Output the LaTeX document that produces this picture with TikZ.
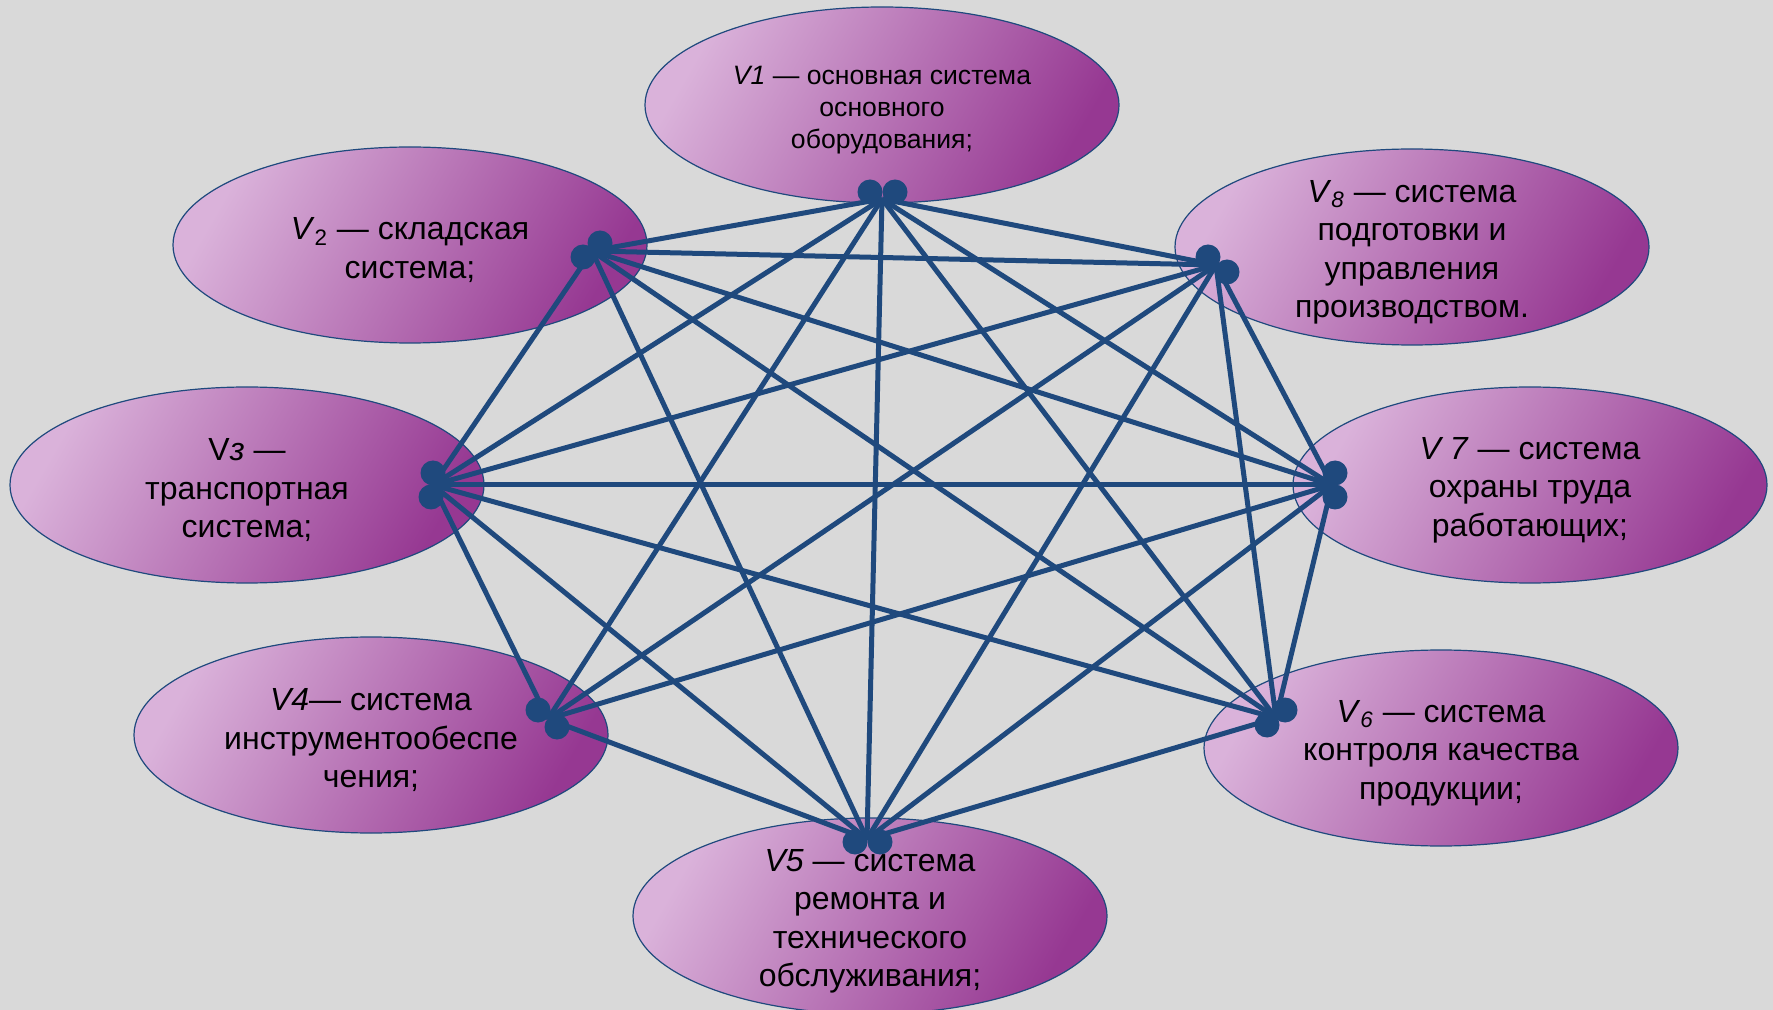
\documentclass[tikz,border=0pt]{standalone}
\usepackage{fontspec}
\setmainfont{Liberation Sans}
\usetikzlibrary{shapes.geometric}
\definecolor{edgeblue}{RGB}{31,73,125}
\definecolor{paleorchid}{RGB}{218,178,218}
\definecolor{deeporchid}{RGB}{150,56,146}
\definecolor{slidegray}{RGB}{217,217,217}

\begin{document}
\begin{tikzpicture}[
    x=0.5pt, y=-0.5pt,
    subsystem/.style={ellipse, draw=edgeblue, line width=0.6pt, top color=paleorchid, bottom color=deeporchid, shading angle=60, minimum width=237pt, minimum height=98pt, inner sep=0pt},
    caption/.style={inner sep=0pt, align=center, font=\fontsize{16}{19.2}\selectfont},
    link/.style={edgeblue, line width=2.5pt},
    joint/.style={circle, fill=edgeblue, inner sep=0pt, minimum size=12.5pt}
]

\useasboundingbox (0,0) rectangle (1773,1010);
\fill[slidegray] (0,0) rectangle (1773,1010);

% subsystems
\node[subsystem] (v1) at (882,105) {};
\node[subsystem] (v2) at (410,245) {};
\node[subsystem] (v3) at (247,485) {};
\node[subsystem] (v4) at (371,735) {};
\node[subsystem] (v5) at (870,916) {};
\node[subsystem] (v6) at (1441,748) {};
\node[subsystem] (v7) at (1530,485) {};
\node[subsystem] (v8) at (1412,247) {};

\node[caption, font=\fontsize{13.3}{16}\selectfont] (t1) at ([yshift=-2.6pt]v1.center) {\textit{V1} — основная система\\основного\\оборудования;};
\node[caption] (t2) at ([yshift=-2.6pt]v2.center) {\textit{V}\textsubscript{2} — складская\\система;};
\node[caption] (t3) at ([yshift=-2.6pt]v3.center) {V\textit{з} —\\транспортная\\система;};
\node[caption] (t4) at ([yshift=-2.6pt]v4.center) {\textit{V4}— система\\инструментообеспе\\чения;};
\node[caption] (t5) at ([yshift=-2.6pt]v5.center) {\textit{V5} — система\\ремонта и\\технического\\обслуживания;};
\node[caption] (t6) at ([yshift=-2.6pt]v6.center) {\textit{V}\textsubscript{\textit{6}} — система\\контроля качества\\продукции;};
\node[caption] (t7) at ([yshift=-2.6pt]v7.center) {\textit{V 7} — система\\охраны труда\\работающих;};
\node[caption] (t8) at ([yshift=-2.6pt]v8.center) {\textit{V}\textsubscript{\textit{8}} — система\\подготовки и\\управления\\производством.};

% hubs where the links meet
\coordinate (h1) at (882,199);
\coordinate (h2) at (592,251);
\coordinate (h3) at (433,485);
\coordinate (h4) at (548,719);
\coordinate (h5) at (867,839);
\coordinate (h6) at (1276,718);
\coordinate (h7) at (1332,485);
\coordinate (h8) at (1216,265);

% links (no V2-V4, no V4-V6)
\foreach \a/\b in {1/2,1/3,1/4,1/5,1/6,1/7,1/8,
                   2/3,2/5,2/6,2/7,2/8,
                   3/4,3/5,3/6,3/7,3/8,
                   4/5,4/7,4/8,
                   5/6,5/7,5/8,
                   6/7,6/8,
                   7/8}
  \draw[link] (h\a) -- (h\b);

% double dots
\node[joint] (d1a) at (870,192) {};
\node[joint] (d1b) at (895,192) {};
\node[joint] (d2a) at (600,243) {};
\node[joint] (d2b) at (583,257) {};
\node[joint] (d3a) at (433,473) {};
\node[joint] (d3b) at (431,497) {};
\node[joint] (d4a) at (538,710) {};
\node[joint] (d4b) at (557,727) {};
\node[joint] (d5a) at (855,842) {};
\node[joint] (d5b) at (880,842) {};
\node[joint] (d6a) at (1285,710) {};
\node[joint] (d6b) at (1267,725) {};
\node[joint] (d7a) at (1335,473) {};
\node[joint] (d7b) at (1335,497) {};
\node[joint] (d8a) at (1208,257) {};
\node[joint] (d8b) at (1227,272) {};

\end{tikzpicture}
\end{document}
